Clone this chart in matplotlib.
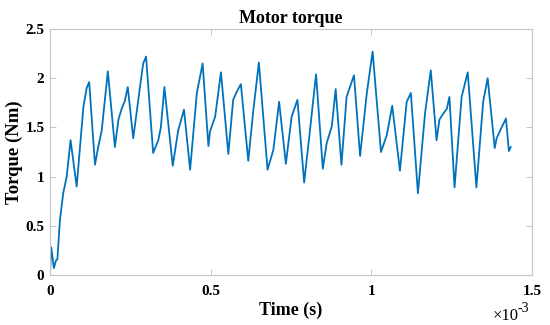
import matplotlib
matplotlib.use("Agg")
import matplotlib.pyplot as plt
from matplotlib.ticker import FuncFormatter

# time in units of 1e-3 s, torque in Nm
time_ms = [
    0.000, 0.004, 0.012, 0.019, 0.023, 0.031, 0.041, 0.052, 0.064, 0.083,
    0.104, 0.114, 0.122, 0.140, 0.150, 0.161, 0.180, 0.202, 0.213, 0.223,
    0.233, 0.242, 0.259, 0.280, 0.290, 0.299, 0.321, 0.337, 0.345, 0.356,
    0.382, 0.399, 0.417, 0.436, 0.457, 0.475, 0.493, 0.498, 0.514, 0.532,
    0.555, 0.570, 0.581, 0.594, 0.617, 0.633, 0.650, 0.677, 0.695, 0.713,
    0.734, 0.752, 0.770, 0.791, 0.809, 0.828, 0.849, 0.861, 0.877, 0.889,
    0.907, 0.923, 0.946, 0.965, 0.986, 1.004, 1.030, 1.048, 1.065, 1.089,
    1.110, 1.123, 1.145, 1.167, 1.185, 1.203, 1.212, 1.222, 1.235, 1.243,
    1.259, 1.281, 1.300, 1.327, 1.348, 1.362, 1.384, 1.390, 1.404, 1.419,
    1.428, 1.434,
]
torque = [
    0.02, 0.28, 0.07, 0.15, 0.16, 0.56, 0.83, 1.00, 1.37, 0.90,
    1.71, 1.90, 1.96, 1.12, 1.30, 1.47, 2.07, 1.30, 1.58, 1.69,
    1.77, 1.91, 1.39, 1.91, 2.15, 2.22, 1.24, 1.37, 1.50, 1.91,
    1.11, 1.47, 1.68, 1.07, 1.85, 2.15, 1.31, 1.46, 1.61, 2.06,
    1.23, 1.78, 1.86, 1.94, 1.16, 1.68, 2.16, 1.07, 1.27, 1.76,
    1.13, 1.61, 1.78, 0.94, 1.47, 2.04, 1.08, 1.34, 1.51, 1.89,
    1.12, 1.81, 2.03, 1.21, 1.85, 2.27, 1.25, 1.42, 1.72, 1.06,
    1.76, 1.85, 0.83, 1.64, 2.08, 1.37, 1.58, 1.63, 1.69, 1.81,
    0.89, 1.81, 2.06, 0.89, 1.76, 2.00, 1.29, 1.39, 1.49, 1.59,
    1.26, 1.30,
]
x_ticks = [0, 0.5, 1, 1.5]
y_ticks = [0, 0.5, 1, 1.5, 2, 2.5]

plt.rcParams["font.family"] = ["Liberation Serif", "DejaVu Serif"]

fig = plt.figure(figsize=(5.5, 3.25), dpi=100)
ax = fig.add_axes([50 / 550, 50 / 325, 482 / 550, 246 / 325])

ax.plot(time_ms, torque, color="#0072BD", linewidth=1.3)

ax.set_xlim(0, 1.5)
ax.set_ylim(0, 2.5)
ax.set_xticks(x_ticks)
ax.set_yticks(y_ticks)
fmt = FuncFormatter(lambda v, _: f"{v:g}")
ax.xaxis.set_major_formatter(fmt)
ax.yaxis.set_major_formatter(fmt)

ax.tick_params(axis="both", direction="in", length=4, width=0.6,
               color="#bdbdbd", labelsize=11, top=True, right=True)
ax.tick_params(axis="x", pad=7)
ax.tick_params(axis="y", pad=4)
for lab in ax.get_xticklabels() + ax.get_yticklabels():
    lab.set_fontweight("bold")
for sp in ax.spines.values():
    sp.set_color("#c4c4c4")
    sp.set_linewidth(0.8)

ax.set_title("Motor torque", fontsize=13, fontweight="bold", pad=4)
ax.set_xlabel("Time (s)", fontsize=13, fontweight="bold", labelpad=3)
ax.set_ylabel("Torque (Nm)", fontsize=13.5, fontweight="bold", labelpad=2)

# MATLAB-style exponent label under the right end of the x axis
fig.text(493 / 550, 1 - 316 / 325, "×10", ha="left", va="center",
         fontsize=12)
fig.text(518 / 550, 1 - 309 / 325, "-3", ha="left", va="center",
         fontsize=10)

fig.savefig("out.png", dpi=100, facecolor="white")
